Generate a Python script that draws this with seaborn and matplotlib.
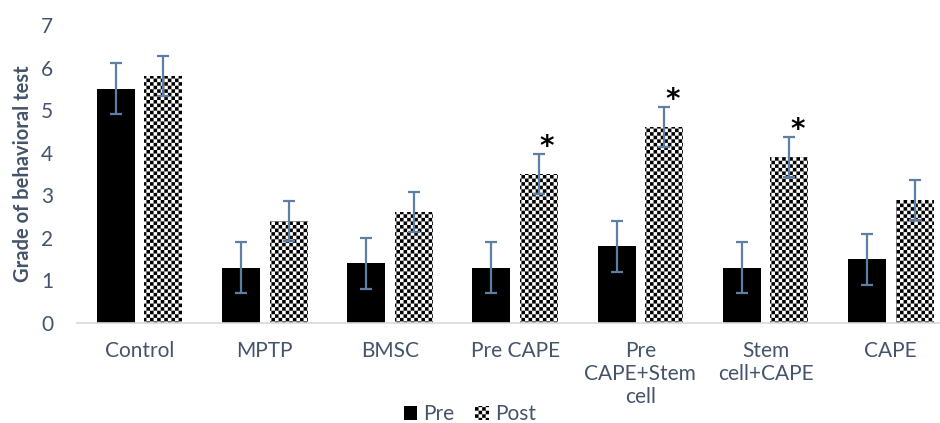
# Pre/Post behavioural test grades per treatment group
import warnings
import numpy as np
import pandas as pd
import seaborn as sns
import matplotlib.pyplot as plt
import matplotlib.hatch as mhatch
import matplotlib.patches as mpatches
from matplotlib.path import Path

# custom hatch character 'c' is not in matplotlib's list, so silence the warning
warnings.filterwarnings('ignore')

# Data
groups = ['Control', 'MPTP', 'BMSC', 'Pre CAPE', 'Pre\nCAPE+Stem\ncell', 'Stem\ncell+CAPE', 'CAPE']
pre_vals = [5.5, 1.3, 1.4, 1.3, 1.8, 1.3, 1.5]
post_vals = [5.8, 2.4, 2.6, 3.5, 4.6, 3.9, 2.9]
pre_err = [0.6, 0.6, 0.6, 0.6, 0.6, 0.6, 0.6]
post_err = [0.47, 0.47, 0.47, 0.47, 0.47, 0.47, 0.47]
significant = [False, False, False, True, True, True, False]
phases = ['Pre', 'Post']

TEXT = '#44546A'
ERR = '#5F7EA3'
CHECK_CELLS = 28  # checker cells per hatch tile (1 inch)


# Checkerboard hatch: filled squares on alternate cells
class CheckerHatch(mhatch.HatchPatternBase):
    def __init__(self, hatch, density):
        self.n = CHECK_CELLS if 'c' in hatch else 0
        self.num_vertices = (self.n * self.n // 2) * 5

    def set_vertices_and_codes(self, vertices, codes):
        s = 1.0 / self.n
        k = 0
        for i in range(self.n):
            for j in range(self.n):
                if (i + j) % 2:
                    continue
                x0, y0 = i * s, j * s
                vertices[k:k + 5] = [[x0, y0], [x0 + s, y0], [x0 + s, y0 + s], [x0, y0 + s], [x0, y0]]
                codes[k:k + 5] = [Path.MOVETO, Path.LINETO, Path.LINETO, Path.LINETO, Path.CLOSEPOLY]
                k += 5


mhatch._hatch_types.append(CheckerHatch)

df = pd.DataFrame({
    'group': groups * 2,
    'value': pre_vals + post_vals,
    'phase': [phases[0]] * len(groups) + [phases[1]] * len(groups),
})

sns.set_style('white')
plt.rcParams['font.family'] = ['Lato', 'DejaVu Sans']
plt.rcParams['hatch.linewidth'] = 0.0

fig = plt.figure(figsize=(9.4, 4.23), dpi=100)
ax = fig.add_axes([77 / 940, 100 / 423, 863 / 940, 298 / 423])

sns.barplot(data=df, x='group', y='value', hue='phase', palette=['black', 'white'],
            width=0.76, gap=0.2, legend=False, ax=ax)

# Post bars get the checker pattern
for p in ax.containers[1]:
    p.set_facecolor('white')
    p.set_edgecolor('black')
    p.set_hatch('c')
    p.set_linewidth(0)
for p in ax.containers[0]:
    p.set_linewidth(0)

# Error bars and significance stars
for cont, errs in zip(ax.containers, [pre_err, post_err]):
    xs = [p.get_x() + p.get_width() / 2 for p in cont]
    hs = [p.get_height() for p in cont]
    ax.errorbar(xs, hs, yerr=errs, fmt='none', ecolor=ERR, elinewidth=1.6,
                capsize=4.5, capthick=1.6, zorder=5)
    if cont is ax.containers[1]:
        for x, h, e, sig in zip(xs, hs, errs, significant):
            if sig:
                ax.text(x + 0.065, h + e - 0.03, '*', ha='center', va='baseline',
                        fontsize=20, fontweight='bold', color='black',
                        family='DejaVu Sans')

ax.set_ylim(0, 7)
ax.set_xlim(-0.5, -0.5 + 863 / 125.2)
ax.set_yticks(range(0, 8))
ax.set_xlabel('')
ax.set_ylabel('Grade of behavioral test', fontsize=14.5, fontweight='bold', color=TEXT, labelpad=6)
ax.tick_params(axis='y', length=0, pad=17, labelsize=15, labelcolor=TEXT)
ax.tick_params(axis='x', length=0, pad=13, labelsize=15, labelcolor=TEXT)

for side in ['left', 'right', 'top']:
    ax.spines[side].set_visible(False)
ax.spines['bottom'].set_color('#D9D9D9')
ax.spines['bottom'].set_linewidth(1.2)

handles = [mpatches.Patch(facecolor='black', edgecolor='black', linewidth=0),
           mpatches.Patch(facecolor='white', edgecolor='black', hatch='c', linewidth=0)]
leg = fig.legend(handles, phases, loc='center', bbox_to_anchor=(0.5, 1 - 414 / 423), ncol=2,
                 frameon=False, fontsize=15, handlelength=0.65, handleheight=0.65,
                 handletextpad=0.3, columnspacing=1.0)
for t in leg.get_texts():
    t.set_color(TEXT)

plt.savefig('out.png', dpi=100)
